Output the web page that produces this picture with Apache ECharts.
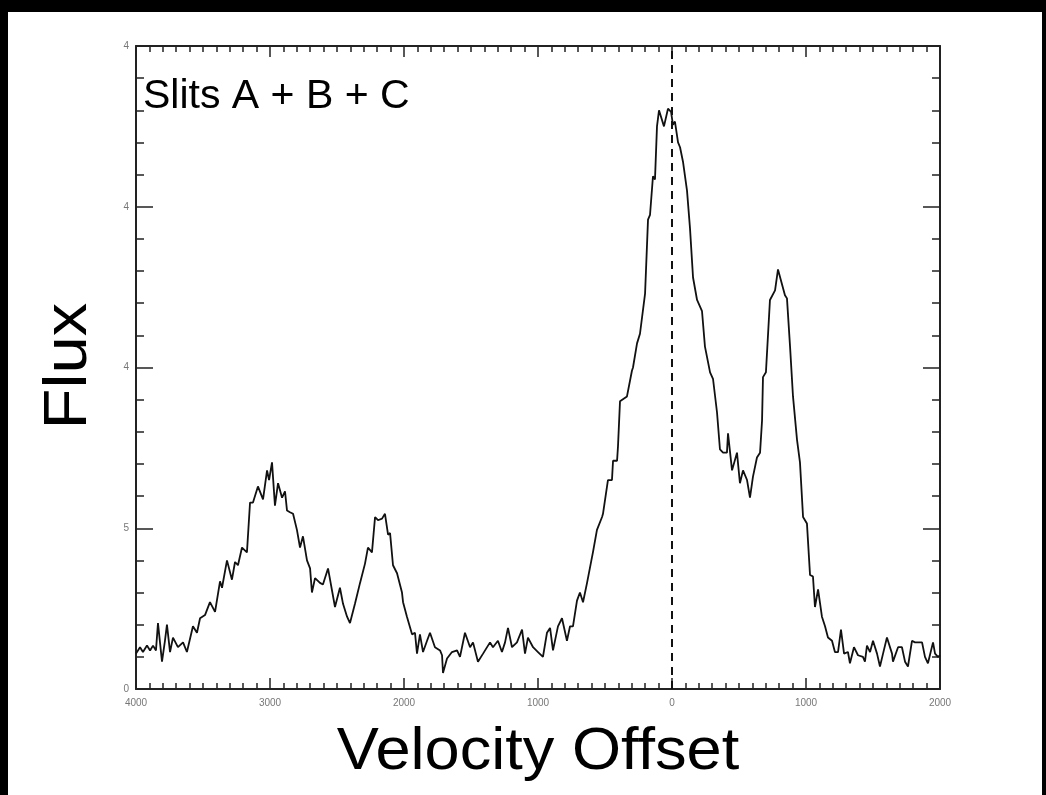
<!DOCTYPE html>
<html>
<head>
<meta charset="utf-8">
<script src="https://cdn.jsdelivr.net/npm/echarts/dist/echarts.min.js"></script>
<style>
  html, body { margin: 0; padding: 0; background: #000; width: 1046px; height: 795px; overflow: hidden; }
  #chart { position: absolute; left: 8px; top: 12px; width: 1034px; height: 783px; background: #fff; }
</style>
</head>
<body>
<div id="chart"></div>
<script>
  // velocity offset of each sample
  var velocity = [
    -4000,-3970,-3948,-3918,-3895,-3873,-3851,-3836,-3806,-3784,
    -3769,-3746,-3724,-3687,-3649,-3620,-3575,-3545,-3522,-3485,
    -3448,-3410,-3373,-3358,-3321,-3284,-3261,-3239,-3209,-3172,
    -3149,-3127,-3090,-3052,-3022,-3007,-2985,-2963,-2940,-2910,
    -2888,-2873,-2851,-2828,-2799,-2776,-2754,-2724,-2701,-2687,
    -2664,-2627,-2605,-2567,-2515,-2478,-2455,-2425,-2403,-2366,
    -2328,-2291,-2269,-2239,-2216,-2194,-2164,-2142,-2119,-2104,
    -2082,-2052,-2015,-2007,-1978,-1940,-1918,-1903,-1881,-1858,
    -1828,-1806,-1769,-1731,-1716,-1709,-1679,-1642,-1604,-1582,
    -1545,-1507,-1485,-1448,-1410,-1358,-1336,-1299,-1269,-1246,
    -1224,-1194,-1157,-1119,-1097,-1075,-1037,-1000,-963,-933,
    -910,-888,-851,-821,-784,-761,-739,-709,-687,-664,
    -634,-597,-590,-560,-552,-522,-515,-478,-448,-440,
    -410,-403,-388,-336,-299,-291,-261,-239,-201,-187,
    -179,-164,-142,-127,-112,-97,-60,-30,-7,7,
    22,45,60,82,112,134,157,187,224,246,
    284,306,336,358,381,410,418,448,485,507,
    530,560,582,604,634,657,672,679,701,731,
    769,791,799,843,858,881,903,933,955,978,
    1007,1030,1052,1067,1090,1119,1142,1164,1194,1216,
    1239,1261,1284,1313,1328,1358,1388,1425,1440,1455,
    1478,1500,1530,1552,1575,1604,1642,1649,1687,1716,
    1739,1761,1791,1813,1836,1866,1888,1910,1948,1963,
    1985,2000
  ]
  var flux = [
    0.22,0.26,0.23,0.27,0.24,0.27,0.24,0.41,0.17,0.30,
    0.40,0.23,0.32,0.26,0.29,0.23,0.39,0.35,0.44,0.46,
    0.54,0.48,0.67,0.63,0.80,0.68,0.79,0.77,0.88,0.85,
    1.16,1.16,1.26,1.18,1.36,1.30,1.41,1.14,1.28,1.19,
    1.23,1.11,1.10,1.09,0.99,0.88,0.95,0.80,0.75,0.60,
    0.69,0.66,0.65,0.75,0.51,0.63,0.53,0.45,0.41,0.53,
    0.66,0.78,0.88,0.85,1.07,1.05,1.06,1.09,0.96,0.97,
    0.77,0.72,0.60,0.54,0.45,0.34,0.35,0.22,0.34,0.23,
    0.30,0.35,0.26,0.24,0.21,0.10,0.19,0.23,0.24,0.20,
    0.35,0.26,0.29,0.17,0.22,0.29,0.26,0.30,0.23,0.29,
    0.38,0.26,0.29,0.37,0.22,0.32,0.26,0.23,0.20,0.35,
    0.38,0.24,0.39,0.44,0.30,0.39,0.39,0.55,0.60,0.54,
    0.66,0.82,0.85,0.99,0.99,1.07,1.09,1.30,1.30,1.42,
    1.42,1.51,1.79,1.82,1.98,2.00,2.15,2.21,2.46,2.46,
    2.92,2.95,3.19,3.17,3.50,3.60,3.50,3.61,3.59,3.51,
    3.53,3.40,3.37,3.28,3.10,2.87,2.56,2.42,2.35,2.13,
    1.97,1.93,1.72,1.49,1.47,1.47,1.59,1.36,1.47,1.28,
    1.36,1.30,1.19,1.32,1.44,1.47,1.67,1.94,1.97,2.42,
    2.48,2.61,2.61,2.45,2.43,2.13,1.82,1.55,1.41,1.07,
    1.03,0.71,0.70,0.51,0.62,0.45,0.39,0.32,0.30,0.23,
    0.23,0.37,0.22,0.23,0.16,0.26,0.21,0.20,0.17,0.27,
    0.23,0.30,0.22,0.14,0.22,0.32,0.22,0.17,0.26,0.26,
    0.17,0.14,0.30,0.29,0.29,0.29,0.20,0.16,0.29,0.22,
    0.20,0.21
  ]
  // tick labels as printed on the plot
  var xTickLabels = ['4000', '3000', '2000', '1000', '0', '1000', '2000']
  var yTickLabels = ['0', '5', '4', '4', '4']

  var axisColor = '#222'
  var font = 'Liberation Sans, Arial, Helvetica, sans-serif'

  function frameX(pos, showLabel) {
    return {
      type: 'value',
      position: pos,
      min: -4000,
      max: 2000,
      interval: 1000,
      axisLine: { show: true, onZero: false, lineStyle: { color: axisColor, width: 2 } },
      axisTick: { show: true, inside: true, length: 11, lineStyle: { color: axisColor, width: 1.5 } },
      minorTick: { show: true, splitNumber: 10, length: 6, lineStyle: { color: axisColor, width: 1.5 } },
      splitLine: { show: false },
      axisLabel: {
        show: showLabel,
        color: '#777',
        fontSize: 10,
        fontFamily: font,
        margin: 9,
        formatter: function (v) { return xTickLabels[Math.round((v + 4000) / 1000)] }
      }
    }
  }
  function frameY(pos, showLabel) {
    return {
      type: 'value',
      position: pos,
      min: 0,
      max: 4,
      interval: 1,
      axisLine: { show: true, onZero: false, lineStyle: { color: axisColor, width: 2 } },
      axisTick: { show: true, inside: true, length: 17, lineStyle: { color: axisColor, width: 1.5 } },
      minorTick: { show: true, splitNumber: 5, length: 8, lineStyle: { color: axisColor, width: 1.5 } },
      splitLine: { show: false },
      axisLabel: {
        show: showLabel,
        color: '#777',
        fontSize: 10,
        fontFamily: font,
        margin: 7,
        formatter: function (v) { return yTickLabels[Math.round(v)] }
      }
    }
  }

  var myChart = echarts.init(document.getElementById('chart'))
  var option = {
    animation: false,
    grid: { left: 128, right: 102, top: 34, bottom: 106 },
    xAxis: [frameX('bottom', true), frameX('top', false)],
    yAxis: [frameY('left', true), frameY('right', false)],
    graphic: [
      {
        type: 'text', x: 135, y: 85,
        style: { text: 'Slits A + B + C', fontSize: 41, fontFamily: font, fill: '#000', textAlign: 'left', textVerticalAlign: 'middle' }
      },
      {
        type: 'text', x: 61, y: 354, rotation: Math.PI / 2, scaleX: 1.1,
        style: { text: 'Flux', fontSize: 61, fontFamily: font, fill: '#000', textAlign: 'center', textVerticalAlign: 'middle' }
      },
      {
        type: 'text', x: 530, y: 741, scaleX: 1.07,
        style: { text: 'Velocity Offset', fontSize: 59, fontFamily: font, fill: '#000', textAlign: 'center', textVerticalAlign: 'middle' }
      }
    ],
    series: [{
      name: 'Flux',
      type: 'line',
      xAxisIndex: 0,
      yAxisIndex: 0,
      data: velocity.map(function (v, i) { return [v, flux[i]] }),
      showSymbol: false,
      symbol: 'none',
      lineStyle: { color: '#111', width: 1.8 },
      markLine: {
        silent: true,
        symbol: 'none',
        label: { show: false },
        lineStyle: { color: '#111', width: 2, type: [8, 6] },
        data: [{ xAxis: 0 }]
      }
    }]
  }
  myChart.setOption(option)
</script>
</body>
</html>
